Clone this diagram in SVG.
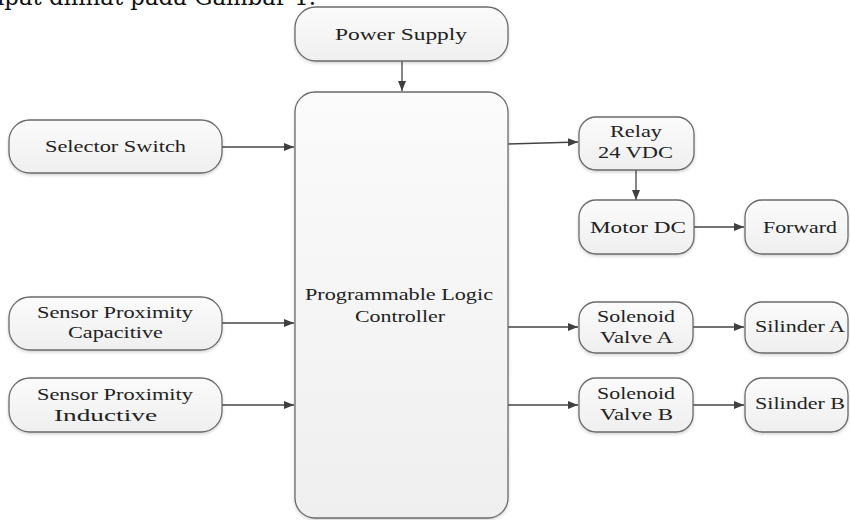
<svg xmlns="http://www.w3.org/2000/svg" width="850" height="520" viewBox="0 0 850 520">
  <defs>
    <linearGradient id="g" x1="0" y1="0" x2="0" y2="1">
      <stop offset="0" stop-color="#fbfbfb"/>
      <stop offset="1" stop-color="#efefef"/>
    </linearGradient>
    <filter id="sh" x="-10%" y="-10%" width="120%" height="130%">
      <feDropShadow dx="0" dy="1.5" stdDeviation="1.5" flood-color="#000" flood-opacity="0.18"/>
    </filter>
    <marker id="ah" viewBox="0 0 10 10" refX="10" refY="5" markerWidth="10" markerHeight="10" markerUnits="userSpaceOnUse" orient="auto">
      <path d="M0,1 L10,5 L0,9 Z" fill="#404040"/>
    </marker>
  </defs>
  <style>
    .box { fill: url(#g); stroke: #6b6b6b; stroke-width: 1.3; filter: url(#sh); }
    .lbl { font-family: "Liberation Serif", "Times New Roman", serif; font-size: 17px; fill: #222; text-anchor: middle; }
    .con { stroke: #444; stroke-width: 1.3; fill: none; marker-end: url(#ah); }
    .cap { font-family: "DejaVu Serif", serif; font-size: 25px; fill: #111; text-anchor: end; }
  </style>
  <rect width="850" height="520" fill="#ffffff"/>
  <text class="cap" x="316" y="5" textLength="340" lengthAdjust="spacingAndGlyphs">dapat dilihat pada Gambar 1.</text>

  <g id="connectors">
    <line class="con" x1="402" y1="61" x2="402" y2="91"/>
    <line class="con" x1="222" y1="147" x2="294" y2="147"/>
    <line class="con" x1="222" y1="323" x2="294" y2="323"/>
    <line class="con" x1="222" y1="405" x2="294" y2="405"/>
    <line class="con" x1="508" y1="144" x2="578" y2="142"/>
    <line class="con" x1="636" y1="170" x2="636" y2="200"/>
    <line class="con" x1="694" y1="227" x2="744" y2="227"/>
    <line class="con" x1="508" y1="327" x2="578" y2="327"/>
    <line class="con" x1="693" y1="327" x2="744" y2="327"/>
    <line class="con" x1="508" y1="405" x2="578" y2="405"/>
    <line class="con" x1="693" y1="405" x2="744" y2="405"/>
  </g>

  <g id="power-supply">
    <rect class="box" x="295" y="7" width="213" height="54" rx="21"/>
    <text class="lbl" x="401" y="40" textLength="132" lengthAdjust="spacingAndGlyphs">Power Supply</text>
  </g>
  <g id="plc">
    <rect class="box" x="295" y="92" width="213" height="426" rx="20"/>
    <text class="lbl" x="399" y="300" textLength="188" lengthAdjust="spacingAndGlyphs">Programmable Logic</text>
    <text class="lbl" x="400" y="322" textLength="90" lengthAdjust="spacingAndGlyphs">Controller</text>
  </g>
  <g id="selector-switch">
    <rect class="box" x="9" y="120" width="213" height="53" rx="21"/>
    <text class="lbl" x="115.5" y="152" textLength="141" lengthAdjust="spacingAndGlyphs">Selector Switch</text>
  </g>
  <g id="sensor-capacitive">
    <rect class="box" x="9" y="297" width="213" height="53" rx="21"/>
    <text class="lbl" x="115" y="318" textLength="156" lengthAdjust="spacingAndGlyphs">Sensor Proximity</text>
    <text class="lbl" x="115.5" y="338" textLength="95" lengthAdjust="spacingAndGlyphs">Capacitive</text>
  </g>
  <g id="sensor-inductive">
    <rect class="box" x="9" y="378" width="213" height="54" rx="21"/>
    <text class="lbl" x="115" y="400" textLength="156" lengthAdjust="spacingAndGlyphs">Sensor Proximity</text>
    <text class="lbl" x="105.5" y="421" textLength="103" lengthAdjust="spacingAndGlyphs">Inductive</text>
  </g>
  <g id="relay">
    <rect class="box" x="579" y="117" width="115" height="53" rx="17"/>
    <text class="lbl" x="636" y="137" textLength="52" lengthAdjust="spacingAndGlyphs">Relay</text>
    <text class="lbl" x="635.5" y="158" textLength="75" lengthAdjust="spacingAndGlyphs">24 VDC</text>
  </g>
  <g id="motor-dc">
    <rect class="box" x="579" y="200" width="115" height="54" rx="17"/>
    <text class="lbl" x="638" y="233" textLength="96" lengthAdjust="spacingAndGlyphs">Motor DC</text>
  </g>
  <g id="forward">
    <rect class="box" x="745" y="200" width="103" height="54" rx="17"/>
    <text class="lbl" x="800" y="233" textLength="74" lengthAdjust="spacingAndGlyphs">Forward</text>
  </g>
  <g id="solenoid-a">
    <rect class="box" x="579" y="302" width="114" height="51" rx="17"/>
    <text class="lbl" x="636" y="322" textLength="78" lengthAdjust="spacingAndGlyphs">Solenoid</text>
    <text class="lbl" x="636.5" y="343" textLength="73" lengthAdjust="spacingAndGlyphs">Valve A</text>
  </g>
  <g id="silinder-a">
    <rect class="box" x="745" y="302" width="103" height="51" rx="17"/>
    <text class="lbl" x="800" y="332" textLength="90" lengthAdjust="spacingAndGlyphs">Silinder A</text>
  </g>
  <g id="solenoid-b">
    <rect class="box" x="579" y="378" width="114" height="54" rx="17"/>
    <text class="lbl" x="636" y="399" textLength="78" lengthAdjust="spacingAndGlyphs">Solenoid</text>
    <text class="lbl" x="636.5" y="420" textLength="73" lengthAdjust="spacingAndGlyphs">Valve B</text>
  </g>
  <g id="silinder-b">
    <rect class="box" x="745" y="378" width="103" height="54" rx="17"/>
    <text class="lbl" x="800" y="409" textLength="90" lengthAdjust="spacingAndGlyphs">Silinder B</text>
  </g>
</svg>
